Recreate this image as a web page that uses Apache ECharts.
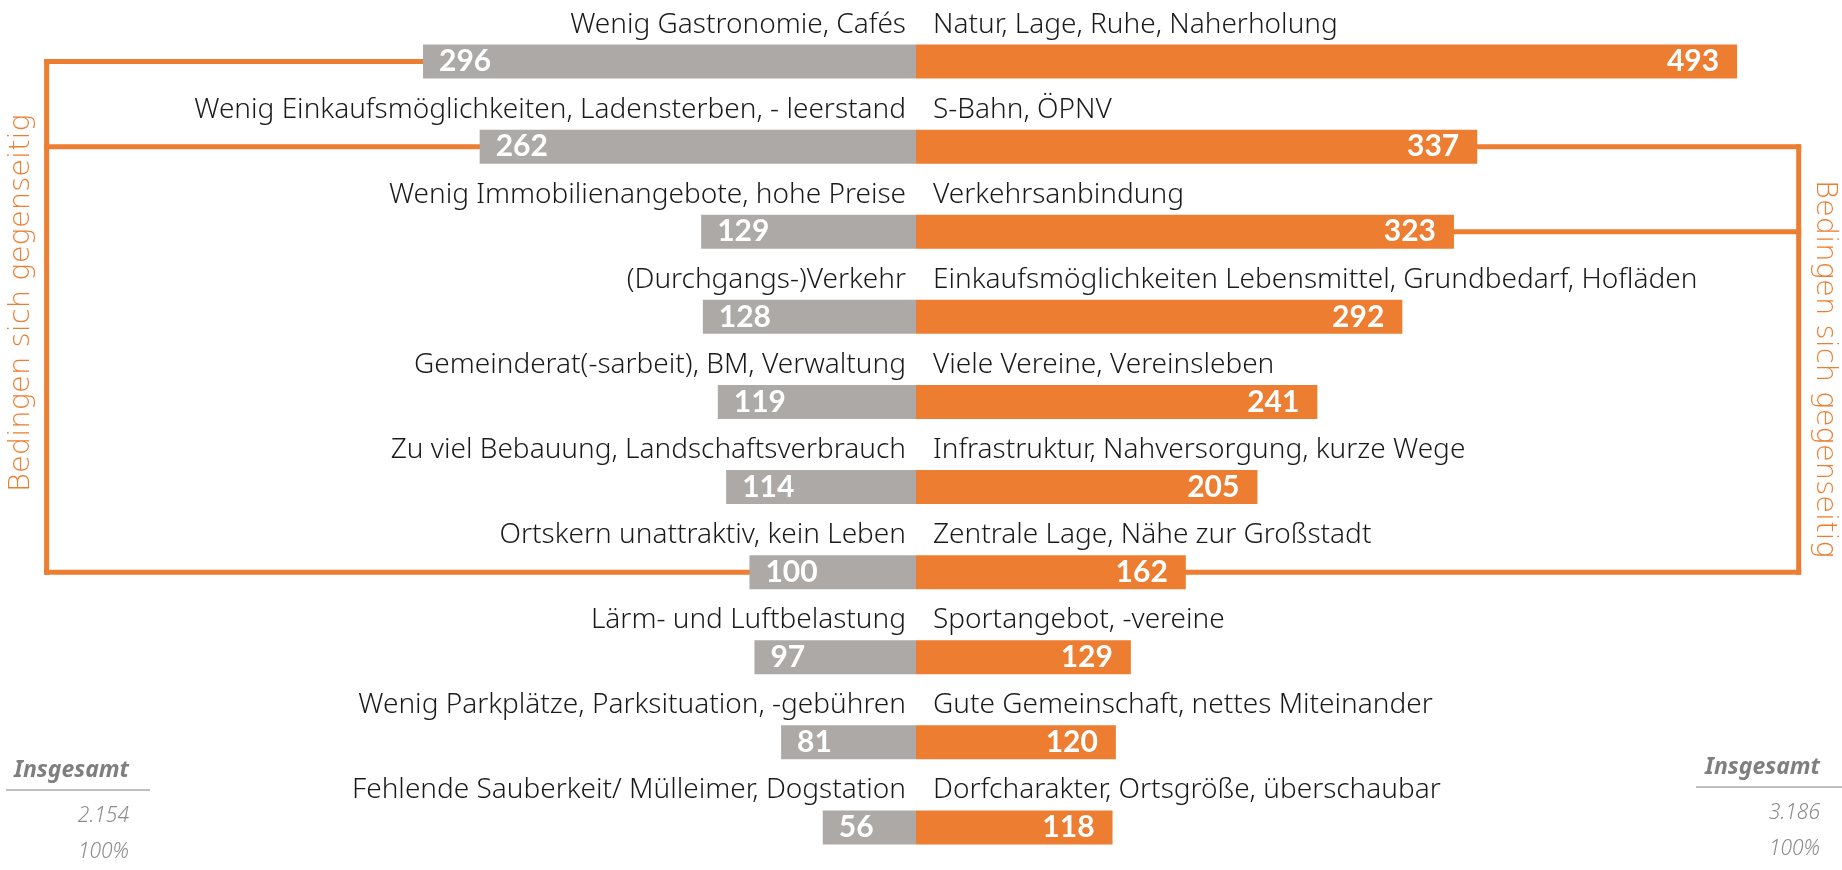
<!DOCTYPE html>
<html>
<head>
<meta charset="utf-8">
<script src="https://cdn.jsdelivr.net/npm/echarts@6/dist/echarts.min.js"></script>
<style>
  html, body {margin: 0; padding: 0; background: #fff;}
  #main {width: 1842px; height: 870px;}
</style>
</head>
<body>
<div id="main"></div>
<script>
// Schwächen (links) und Stärken (rechts)
const leftCats = ['Wenig Gastronomie, Cafés', 'Wenig Einkaufsmöglichkeiten, Ladensterben, - leerstand',
  'Wenig Immobilienangebote, hohe Preise', '(Durchgangs-)Verkehr', 'Gemeinderat(-sarbeit), BM, Verwaltung',
  'Zu viel Bebauung, Landschaftsverbrauch', 'Ortskern unattraktiv, kein Leben', 'Lärm- und Luftbelastung',
  'Wenig Parkplätze, Parksituation, -gebühren', 'Fehlende Sauberkeit/ Mülleimer, Dogstation']
const leftVals = [296, 262, 129, 128, 119, 114, 100, 97, 81, 56]

const rightCats = ['Natur, Lage, Ruhe, Naherholung', 'S-Bahn, ÖPNV', 'Verkehrsanbindung',
  'Einkaufsmöglichkeiten Lebensmittel, Grundbedarf, Hofläden', 'Viele Vereine, Vereinsleben',
  'Infrastruktur, Nahversorgung, kurze Wege', 'Zentrale Lage, Nähe zur Großstadt', 'Sportangebot, -vereine',
  'Gute Gemeinschaft, nettes Miteinander', 'Dorfcharakter, Ortsgröße, überschaubar']
const rightVals = [493, 337, 323, 292, 241, 205, 162, 129, 120, 118]

// Zeilen, die über die Klammern verbunden sind
const leftLinked = [0, 1, 6]
const rightLinked = [1, 2, 6]
const bracketText = 'Bedingen sich gegenseitig'

const totalTitle = 'Insgesamt'
const leftTotal = ['2.154', '100%']
const rightTotal = ['3.186', '100%']

const rows = leftCats.map((c, i) => i)

const GRAY = '#ada9a7'
const ORANGE = '#ed7d31'
const BRACKET_L = -522
const BRACKET_R = 530
const LABEL_FONT = '300 28px "Noto Sans"'

let myChart = echarts.init(document.getElementById('main'))

// Klammer: waagrechte Linien von den Balkenenden + senkrechte Linie
const bracketItem = (linked, endOf, bx) => (params, api) => {
  let children = []
  let ys = []
  linked.forEach(i => {
    let a = api.coord([endOf(i), i])
    let b = api.coord([bx, i])
    ys.push(a[1])
    children.push({type: 'line', shape: {x1: a[0], y1: a[1], x2: b[0], y2: b[1]},
      style: {stroke: ORANGE, lineWidth: 5, lineCap: 'square'}})
  })
  let x = api.coord([bx, 0])[0]
  children.push({type: 'line', shape: {x1: x, y1: Math.min(...ys), x2: x, y2: Math.max(...ys)},
    style: {stroke: ORANGE, lineWidth: 5, lineCap: 'square'}})
  return {type: 'group', children: children}
}

const totalBlock = (xr, lx1, lx2, y0, vals) => [
  {type: 'text', x: xr, y: y0, style: {text: totalTitle, align: 'right', verticalAlign: 'middle',
      font: 'italic bold 23px "Noto Sans"', fill: '#7f7f7f'}},
  {type: 'line', shape: {x1: lx1, y1: y0 + 20, x2: lx2, y2: y0 + 20}, style: {stroke: '#bfbfbf', lineWidth: 2}},
  {type: 'text', x: xr, y: y0 + 46, style: {text: vals[0], align: 'right', verticalAlign: 'middle',
      font: 'italic 300 21px "Noto Sans"', fill: '#8c8c8c'}},
  {type: 'text', x: xr, y: y0 + 82, style: {text: vals[1], align: 'right', verticalAlign: 'middle',
      font: 'italic 300 21px "Noto Sans"', fill: '#8c8c8c'}}
]

let option = {
  animation: false,
  backgroundColor: '#fff',
  grid: {left: 0, top: 19, width: 1842, height: 881},
  xAxis: {type: 'value', min: -550, max: 556, show: false},
  yAxis: {type: 'category', data: rows, inverse: true, show: false},
  series: [
    {
      type: 'bar',
      data: leftVals.map(v => -v),
      barWidth: 34,
      barGap: '-100%',
      itemStyle: {color: GRAY},
      label: {show: true, position: 'insideLeft', distance: 16, color: '#fff',
        fontFamily: 'Lato', fontWeight: 'bold', fontSize: 30, formatter: p => Math.abs(p.value)}
    },
    {
      type: 'bar',
      data: rightVals,
      barWidth: 34,
      barGap: '-100%',
      itemStyle: {color: ORANGE},
      label: {show: true, position: 'insideRight', distance: 18, color: '#fff',
        fontFamily: 'Lato', fontWeight: 'bold', fontSize: 30}
    },
    {
      // Beschriftungen über den Balken
      type: 'custom',
      data: rows.map(i => [0, i]),
      silent: true,
      renderItem: (params, api) => {
        let i = api.value(1)
        let p = api.coord([0, i])
        return {type: 'group', children: [
          {type: 'text', x: p[0] - 10, y: p[1] - 37, style: {text: leftCats[i], align: 'right',
              verticalAlign: 'middle', font: LABEL_FONT, fill: '#1a1a1a'}},
          {type: 'text', x: p[0] + 17, y: p[1] - 37, style: {text: rightCats[i], align: 'left',
              verticalAlign: 'middle', font: LABEL_FONT, fill: '#1a1a1a'}}
        ]}
      }
    },
    {
      type: 'custom',
      data: [[0, 0]],
      silent: true,
      renderItem: bracketItem(leftLinked, i => -leftVals[i], BRACKET_L)
    },
    {
      type: 'custom',
      data: [[0, 0]],
      silent: true,
      renderItem: bracketItem(rightLinked, i => rightVals[i], BRACKET_R)
    }
  ],
  graphic: [
    {type: 'text', x: 21, y: 303, rotation: Math.PI / 2,
      style: {text: bracketText, align: 'center', verticalAlign: 'middle', font: '200 29px "DejaVu Sans"', fill: ORANGE}},
    {type: 'text', x: 1825, y: 369, rotation: -Math.PI / 2,
      style: {text: bracketText, align: 'center', verticalAlign: 'middle', font: '200 29px "DejaVu Sans"', fill: ORANGE}},
    ...totalBlock(129, 6, 150, 770, leftTotal),
    ...totalBlock(1820, 1696, 1842, 767, rightTotal)
  ]
}

myChart.setOption(option)
</script>
</body>
</html>
